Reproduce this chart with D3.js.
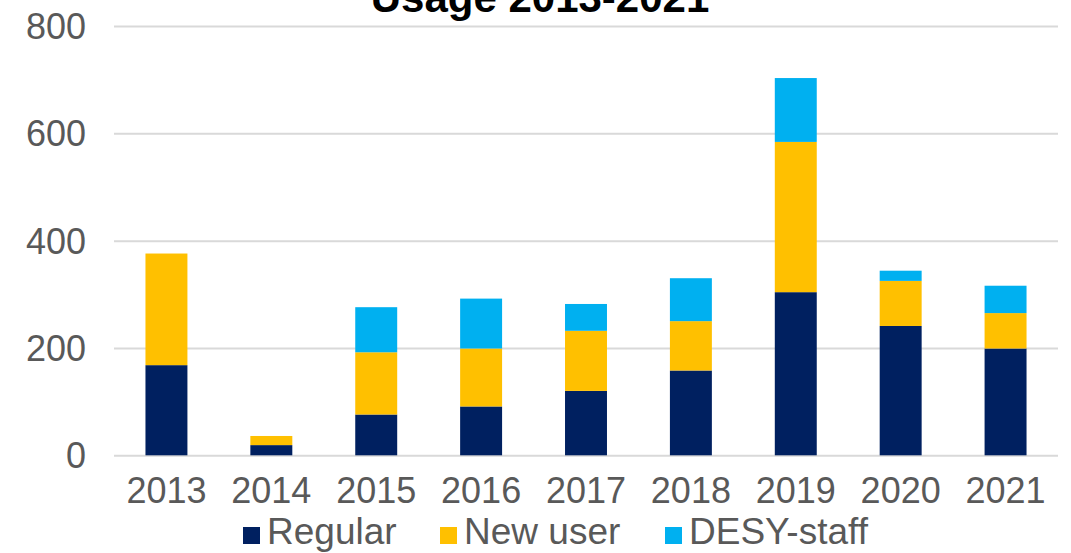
<!DOCTYPE html>
<html>
<head>
<meta charset="utf-8">
<script src="https://cdn.jsdelivr.net/npm/d3@7"></script>
<style>
  body { margin: 0; background: #fff; }
  svg { display: block; font-family: "Liberation Sans", Arial, sans-serif; }
</style>
</head>
<body>
<svg width="1071" height="553"></svg>
<script>
var years = ["2013", "2014", "2015", "2016", "2017", "2018", "2019", "2020", "2021"];
var regular = [168, 19, 76, 91, 120, 158, 304, 241, 199];
var newUser = [208, 17, 116, 108, 112, 92, 280, 84, 66];
var desyStaff = [0, 0, 84, 93, 50, 80, 119, 19, 51];
var seriesNames = ["Regular", "New user", "DESY-staff"];
var seriesColors = ["#002060", "#FFC000", "#00B0F0"];
var yTicks = [0, 200, 400, 600, 800];

var svg = d3.select("svg");

var x = d3.scaleBand()
	.domain(years)
	.range([114, 1058])
	.paddingInner(0.6)
	.paddingOuter(0.3);

var y = d3.scaleLinear()
	.domain([0, 800])
	.range([455.3, 26]);

// gridlines
var yAxis = d3.axisLeft(y)
	.tickValues(yTicks)
	.tickSize(-(1058 - 114))
	.tickPadding(28);

var gy = svg.append("g")
	.attr("transform", "translate(114,0)")
	.call(yAxis);
gy.select(".domain").remove();
gy.selectAll(".tick line").attr("stroke", "#D9D9D9").attr("stroke-width", 2);
gy.selectAll(".tick text")
	.attr("fill", "#595959")
	.style("font-size", "36px")
	.attr("dy", "0.35em");

// stacked data
var table = years.map(function(yr, i) {
	return { year: yr, Regular: regular[i], "New user": newUser[i], "DESY-staff": desyStaff[i] };
});
var stack = d3.stack().keys(seriesNames)(table);

svg.append("g")
	.selectAll("g")
	.data(stack)
	.join("g")
	.attr("fill", function(d, i) { return seriesColors[i]; })
	.selectAll("rect")
	.data(function(d) { return d; })
	.join("rect")
	.attr("x", function(d) { return x(d.data.year); })
	.attr("width", x.bandwidth())
	.attr("y", function(d) { return y(d[1]); })
	.attr("height", function(d) { return y(d[0]) - y(d[1]); });

// x axis labels
var xAxis = d3.axisBottom(x).tickSize(0).tickPadding(22);
var gx = svg.append("g")
	.attr("transform", "translate(0,455.3)")
	.call(xAxis);
gx.select(".domain").remove();
gx.selectAll(".tick text")
	.attr("fill", "#595959")
	.style("font-size", "36px");

// title (partly cut off at top, as in the original)
svg.append("text")
	.attr("x", 540)
	.attr("y", 12)
	.attr("text-anchor", "middle")
	.attr("font-weight", "bold")
	.style("font-size", "42px")
	.attr("fill", "#000")
	.text("Usage 2013-2021");

// legend
var legendX = [243, 440, 665];
var legend = svg.append("g")
	.selectAll("g")
	.data(seriesNames)
	.join("g")
	.attr("transform", function(d, i) { return "translate(" + legendX[i] + ",0)"; });
legend.append("rect")
	.attr("x", 0)
	.attr("y", 527)
	.attr("width", 17)
	.attr("height", 17)
	.attr("fill", function(d, i) { return seriesColors[i]; });
legend.append("text")
	.attr("x", 24)
	.attr("y", 544)
	.attr("fill", "#595959")
	.style("font-size", "37px")
	.text(function(d) { return d; });
</script>
</body>
</html>
